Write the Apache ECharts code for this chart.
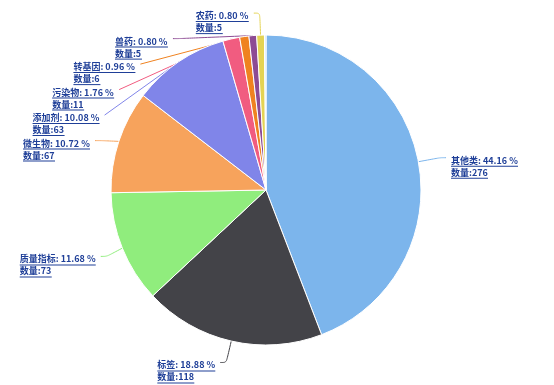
<!DOCTYPE html>
<html>
<head>
<meta charset="utf-8">
<script src="https://cdn.jsdelivr.net/npm/echarts@6/dist/echarts.min.js"></script>
<style>html,body{margin:0;padding:0;background:#fff}#c{width:554px;height:385px}</style>
</head>
<body>
<div id="c"></div>
<script>
const categories = ['其他类', '标签', '质量指标', '微生物', '添加剂', '污染物', '转基因', '兽药', '农药', '其他'];
const values = [276, 118, 73, 67, 63, 11, 6, 5, 5, 1];
const colors = ['#7cb5ec', '#434348', '#90ed7d', '#f7a35c', '#8085e9', '#f15c80', '#ef8220', '#8d4b94', '#e4d354', '#c6e3fa'];
const showLabel = [true, true, true, true, true, true, true, true, true, false];

const FONT_SIZE = 9;
const FONT_FAMILY = "'Noto Sans CJK SC', 'Noto Sans', sans-serif";
const TEXT_COLOR = '#1f3f98';
const cv = document.createElement('canvas').getContext('2d');
cv.font = 'bold ' + FONT_SIZE + 'px ' + FONT_FAMILY;
const total = values.reduce((a, b) => a + b, 0);

const data = categories.map((name, i) => {
  const pct = (values[i] / total * 100).toFixed(2);
  const l1 = name + ': ' + pct + ' %';
  const l2 = '数量:' + values[i];
  const w1 = Math.ceil(cv.measureText(l1).width);
  const w2 = Math.ceil(cv.measureText(l2).width);
  const t = {fontSize: FONT_SIZE, fontFamily: FONT_FAMILY, fontWeight: 'bold', color: TEXT_COLOR, lineHeight: 11, align: 'left'};
  return {
    name: name,
    value: values[i],
    itemStyle: {color: colors[i]},
    label: {
      show: showLabel[i],
      formatter: '{t|' + l1 + '}\n{u1|}\n{t|' + l2 + '}\n{u2|}',
      rich: {
        t: t,
        u1: {width: w1, height: 1, lineHeight: 1, backgroundColor: TEXT_COLOR, align: 'left'},
        u2: {width: w2, height: 1, lineHeight: 1, backgroundColor: TEXT_COLOR, align: 'left'}
      }
    },
    labelLine: {show: showLabel[i]}
  };
});

const chart = echarts.init(document.getElementById('c'));
chart.setOption({
  animation: false,
  series: [{
    type: 'pie',
    center: [266, 190],
    radius: 155,
    startAngle: 90,
    clockwise: true,
    avoidLabelOverlap: true,
    itemStyle: {borderColor: '#fff', borderWidth: 1},
    label: {show: true, position: 'outside', distanceToLabelLine: 5, minMargin: -3},
    labelLine: {length: 22, length2: 6, smooth: true, lineStyle: {width: 1}},
    labelLayout: function () { return {dy: 9}; },
    data: data
  }]
});
</script>
</body>
</html>
